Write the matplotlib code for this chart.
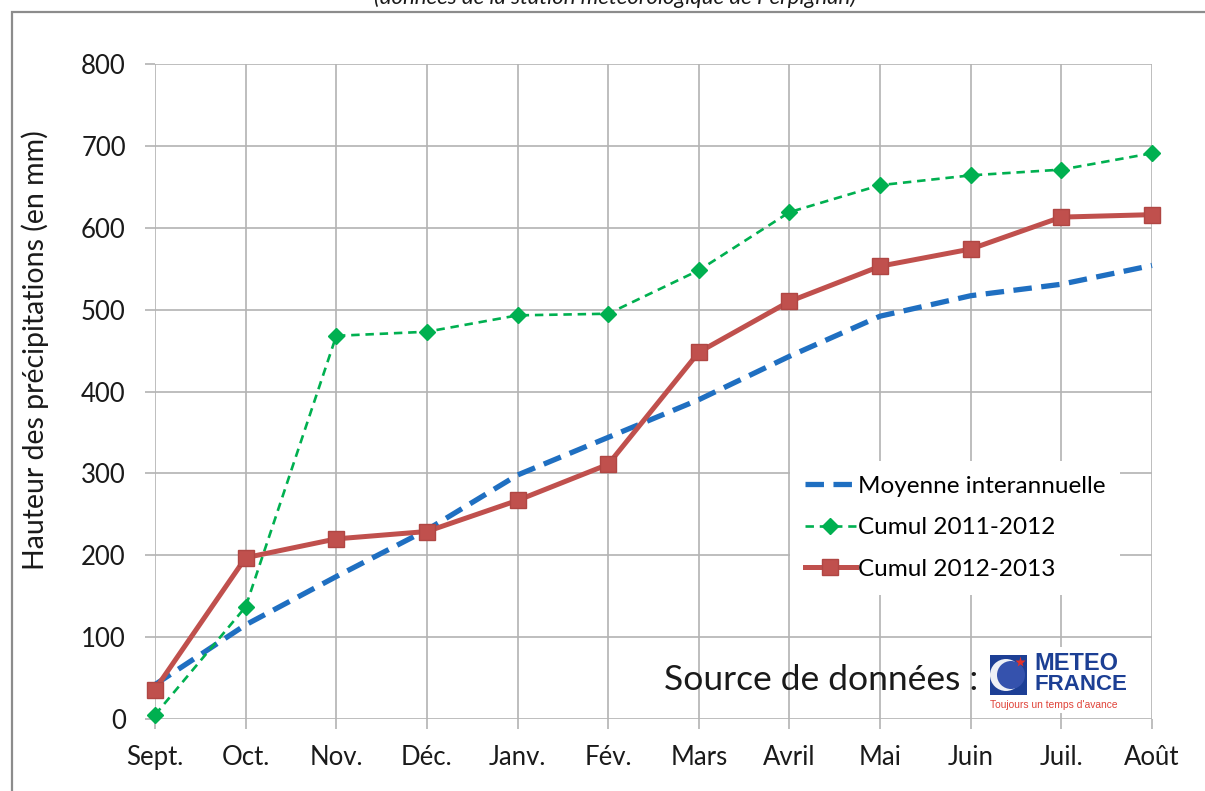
import matplotlib
matplotlib.use("Agg")
import matplotlib.pyplot as plt
from matplotlib.patches import Rectangle, Circle

plt.rcParams['font.family'] = ['Lato', 'DejaVu Sans']

mois = ["Sept.", "Oct.", "Nov.", "Déc.", "Janv.", "Fév.", "Mars", "Avril",
        "Mai", "Juin", "Juil.", "Août"]

# hauteurs cumulées (mm)
moyenne = [42, 115, 174, 231, 298, 344, 390, 443, 492, 517, 531, 554]
cumul_2011_2012 = [5, 137, 468, 473, 493, 495, 548, 619, 652, 664, 671, 691]
cumul_2012_2013 = [36, 197, 220, 229, 267, 311, 448, 510, 553, 574, 613, 616]

W, H = 1205, 791
fig = plt.figure(figsize=(W / 100, H / 100), dpi=100)
fig.patch.set_facecolor("white")

# cadre gris autour du graphique
fig.patches.append(Rectangle((12 / W, -0.1), 1.2, 1 - 12 / H + 0.1,
                             transform=fig.transFigure, fill=False,
                             edgecolor="#8c8c8c", linewidth=1.6))

# titre coupé en haut comme sur l'original
fig.text(0.51, 1 - 4 / H, "(données de la station météorologique de Perpignan)",
         ha="center", va="baseline", fontsize=16, style="italic", color="#1a1a1a")

ax = fig.add_axes([155 / W, 1 - 719 / H, 997 / W, 655 / H])
x = list(range(len(mois)))

ax.plot(x, moyenne, color="#1F6FC1", lw=3.8, linestyle=(0, (3.5, 1.8)),
        label="Moyenne interannuelle", zorder=3, clip_on=False)
ax.plot(x, cumul_2011_2012, color="#00B050", lw=1.9, linestyle=(0, (3.2, 2.2)),
        marker="D", ms=8, mfc="#00B050", mec="#00B050",
        label="Cumul 2011-2012", zorder=4, clip_on=False)
ax.plot(x, cumul_2012_2013, color="#C0504D", lw=3.6, marker="s", ms=11.5,
        mfc="#C0504D", mec="#B04643", label="Cumul 2012-2013", zorder=5,
        clip_on=False)

ax.set_xlim(0, 11)
ax.set_ylim(0, 800)
ax.set_yticks(range(0, 801, 100))
ax.set_xticks(x)
ax.set_xticklabels(mois)
ax.grid(True, color="#b3b3b3", lw=1.2)
ax.set_axisbelow(True)
for s in ax.spines.values():
    s.set_visible(False)
ax.tick_params(axis="both", length=7, width=1.2, color="#b3b3b3",
               labelsize=18.5, labelcolor="#1a1a1a")
ax.tick_params(axis="y", pad=14)
ax.tick_params(axis="x", pad=12)
ax.set_ylabel("Hauteur des précipitations (en mm)", fontsize=20.5,
              color="#1a1a1a")
ax.yaxis.set_label_coords(-0.106, 0.563)

leg = ax.legend(loc="lower left", bbox_to_anchor=(0.637, 0.19), fontsize=17.5,
                frameon=True, fancybox=False, framealpha=1, edgecolor="none",
                facecolor="white", handlelength=2.1, handletextpad=0.1,
                labelspacing=0.85, borderpad=0.6, borderaxespad=0)
leg.set_zorder(6)

ax.text(0.826, 0.059, "Source de données :", transform=ax.transAxes,
        ha="right", va="center", fontsize=25.5, color="#1a1a1a", zorder=6)

# logo Météo-France
lg = fig.add_axes([984 / W, 1 - 713 / H, 152 / W, 66 / H])
lg.set_xlim(0, 152)
lg.set_ylim(0, 66)
lg.set_facecolor("white")
lg.set_xticks([])
lg.set_yticks([])
for s in lg.spines.values():
    s.set_visible(False)
lg.add_patch(Rectangle((6, 18), 37, 40, facecolor="#1d3f95", edgecolor="none"))
lg.add_patch(Circle((22, 38), 16, facecolor="#eef0f6", edgecolor="none"))
lg.add_patch(Circle((27, 38), 14, facecolor="#3552ad", edgecolor="none"))
lg.plot([36], [51], marker="*", ms=8, color="#e0322b", mec="none")
lg.text(50, 50, "METEO", fontsize=17, fontweight="bold", color="#1c3f94",
        family="Liberation Sans", va="center", ha="left")
lg.text(50, 28, "FRANCE", fontsize=16, fontweight="bold", color="#1c3f94",
        family="Liberation Sans", va="center", ha="left")
lg.text(6, 8, "Toujours un temps d'avance", fontsize=7.4, color="#e0443a",
        family="Liberation Sans", va="center", ha="left")

fig.savefig("out.png", dpi=100)
